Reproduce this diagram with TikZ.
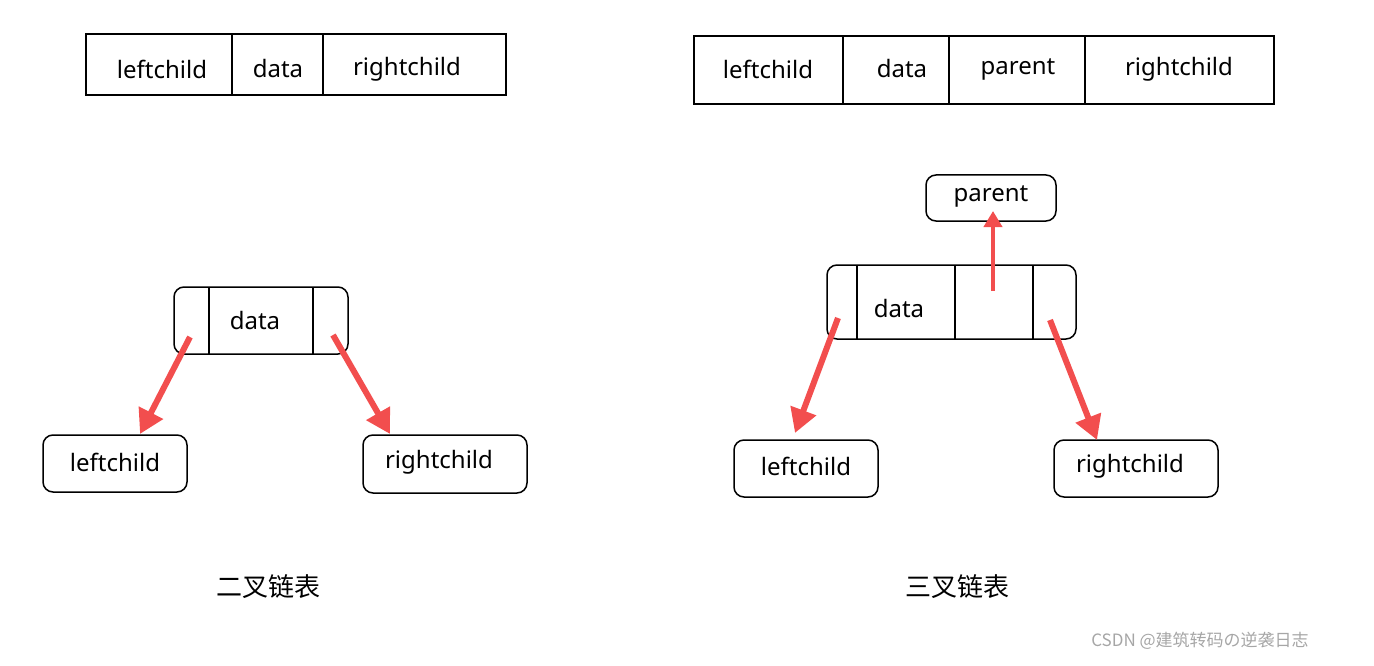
\documentclass[tikz,border=0pt]{standalone}
\usepackage{fontspec}
\setmainfont{Noto Sans}
\newfontfamily\cjk{Noto Sans CJK SC}
\usetikzlibrary{arrows.meta}
\definecolor{arrred}{RGB}{242,78,78}
\begin{document}
\begin{tikzpicture}[x=1pt,y=-1pt]
    \tikzset{cell/.style={draw, line width=1.5pt},
             lbl/.style={font=\fontsize{24}{24}\selectfont},
             box/.style={draw, line width=1.5pt, rounded corners=10pt},
             ptr/.style={arrred, line width=6pt, -{Triangle[length=24pt,width=26pt]}}}
    \useasboundingbox (0,0) rectangle (1374,666);

    % binary linked list record
    \draw[cell] (86,34) rectangle (506,95);
    \draw[cell] (232,34) -- (232,95);
    \draw[cell] (323,34) -- (323,95);
    \node[lbl] (l1) at (162,69) {leftchild};
    \node[lbl] (d1) at (278,69) {data};
    \node[lbl] (r1) at (407,69) {rightchild};

    % triple linked list record
    \draw[cell] (694,36) rectangle (1274,104);
    \draw[cell] (843,36) -- (843,104);
    \draw[cell] (949,36) -- (949,104);
    \draw[cell] (1085,36) -- (1085,104);
    \node[lbl] (l2) at (768,69) {leftchild};
    \node[lbl] (d2) at (902,69) {data};
    \node[lbl] (p2) at (1018,69) {parent};
    \node[lbl] (r2) at (1179,69) {rightchild};

    % binary node
    \draw[box] (174,287) rectangle (348,354);
    \draw[cell] (209,287) -- (209,354);
    \draw[cell] (313,287) -- (313,354);
    \node[lbl] (bdata) at (255,320) {data};
    \draw[box] (43,435) rectangle (187,492);
    \node[lbl] (bleft) at (115,462) {leftchild};
    \draw[box] (363,435) rectangle (527,493);
    \node[lbl] (bright) at (439,462) {rightchild};
    \coordinate (bl0) at (190,337);
    \coordinate (bl1) at (140,434);
    \coordinate (br0) at (333,335);
    \coordinate (br1) at (390,434);
    \draw[ptr] (bl0) -- (bl1);
    \draw[ptr] (br0) -- (br1);

    % triple node
    \draw[box] (827,265) rectangle (1076,339);
    \draw[cell] (857,265) -- (857,339);
    \draw[cell] (955,265) -- (955,339);
    \draw[cell] (1033,265) -- (1033,339);
    \node[lbl] (tdata) at (899,308) {data};
    \draw[box] (926,175) rectangle (1056,221);
    \node[lbl] (tpar) at (991,196) {parent};
    \draw[box] (734,440) rectangle (878,497);
    \node[lbl] (tleft) at (806,466) {leftchild};
    \draw[box] (1054,440) rectangle (1218,497);
    \node[lbl] (tright) at (1130,466) {rightchild};
    \coordinate (tl0) at (838,318);
    \coordinate (tl1) at (795,433);
    \coordinate (tr0) at (1050,320);
    \coordinate (tr1) at (1097,440);
    \coordinate (tp0) at (993,291);
    \coordinate (tp1) at (993,211);
    \draw[ptr] (tl0) -- (tl1);
    \draw[ptr] (tr0) -- (tr1);
    \draw[ptr, line width=4pt, -{Triangle[length=16pt,width=18pt]}] (tp0) -- (tp1);

    % captions
    \node[font=\cjk\fontsize{26}{26}\selectfont] (cap1) at (268,587) {二叉链表};
    \node[font=\cjk\fontsize{26}{26}\selectfont] (cap2) at (957,587) {三叉链表};
    \node[font=\cjk\fontsize{17}{17}\selectfont, text=black!35] (mark) at (1200,641) {CSDN @建筑转码の逆袭日志};
\end{tikzpicture}
\end{document}
